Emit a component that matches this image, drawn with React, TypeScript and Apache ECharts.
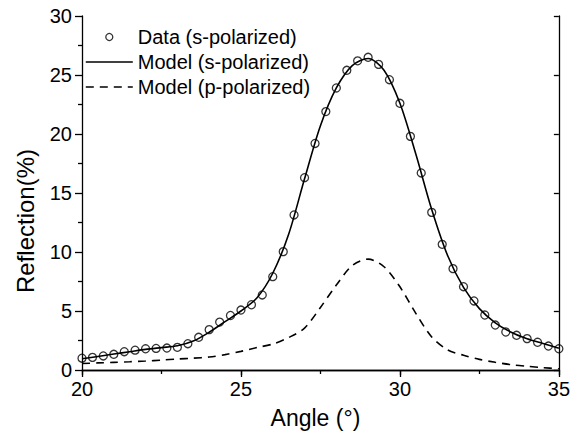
import React, { useEffect, useRef } from "react";
import * as echarts from "echarts";

const dataAngles = [
  20, 20.33, 20.67, 21, 21.33, 21.67, 22, 22.33, 22.67, 23, 23.33, 23.67, 24, 24.33, 24.67, 25,
  25.33, 25.67, 26, 26.33, 26.67, 27, 27.33, 27.67, 28, 28.33, 28.67, 29, 29.33, 29.67, 30,
  30.33, 30.67, 31, 31.33, 31.67, 32, 32.33, 32.67, 33, 33.33, 33.67, 34, 34.33, 34.67, 35,
];
const dataS = [
  1.0, 1.07, 1.19, 1.33, 1.55, 1.68, 1.8, 1.83, 1.86, 1.92, 2.23, 2.77, 3.42, 4.06, 4.62, 5.08,
  5.53, 6.36, 7.91, 10.03, 13.14, 16.3, 19.2, 21.9, 23.9, 25.4, 26.2, 26.5, 25.9, 24.6, 22.6,
  19.8, 16.7, 13.36, 10.65, 8.59, 7.06, 5.85, 4.66, 3.81, 3.22, 2.94, 2.66, 2.35, 2.03, 1.8,
];
const modelAngles = [
  20, 20.5, 21, 21.5, 22, 22.5, 23, 23.5, 24, 24.5, 25, 25.5, 26, 26.5, 27, 27.5, 28, 28.5, 29,
  29.5, 30, 30.5, 31, 31.5, 32, 32.5, 33, 33.5, 34, 34.5, 35,
];
const modelS = [
  0.95, 1.15, 1.35, 1.55, 1.75, 1.9, 2.05, 2.45, 3.2, 4.1, 5.0, 6.1, 8.2, 11.5, 16.2, 20.7, 23.9,
  25.8, 26.4, 25.4, 22.6, 18.3, 13.6, 9.7, 7.0, 5.2, 4.0, 3.2, 2.65, 2.25, 1.85,
];
const modelP = [
  0.55, 0.6, 0.65, 0.7, 0.76, 0.84, 0.93, 1.0, 1.1, 1.3, 1.58, 1.9, 2.2, 2.75, 3.55, 5.3, 7.2,
  8.85, 9.4, 8.75, 7.05, 4.8, 2.8, 1.7, 1.25, 0.9, 0.65, 0.45, 0.32, 0.2, 0.1,
];
const seriesNames = ["Data (s-polarized)", "Model (s-polarized)", "Model (p-polarized)"];
const xName = "Angle (°)";
const yName = "Reflection(%)";

const FONT = "'Liberation Sans', Arial, Helvetica, sans-serif";

export default function App() {
  const ref = useRef<HTMLDivElement>(null);
  useEffect(() => {
    if (!ref.current) return;
    const chart = echarts.init(ref.current, null, { renderer: "svg" });
    const axisLine = { show: true, lineStyle: { color: "#000", width: 1.3 } };
    const hiddenSymbol = { color: "rgba(0,0,0,0)", borderColor: "rgba(0,0,0,0)", borderWidth: 0, opacity: 0 };
    chart.setOption({
      animation: false,
      backgroundColor: "#fff",
      textStyle: { fontFamily: FONT, color: "#000" },
      grid: { left: 82, right: 8, top: 16, bottom: 69, containLabel: false },
      legend: {
        orient: "vertical",
        left: 85,
        top: 27,
        padding: 0,
        itemGap: 5,
        itemWidth: 47,
        itemHeight: 7,
        textStyle: { fontSize: 20, color: "#000", fontFamily: FONT },
        data: [
          {
            name: seriesNames[0],
            icon: "circle",
            itemStyle: { color: "rgba(0,0,0,0)", borderColor: "#000", borderWidth: 1.3 },
          },
          {
            name: seriesNames[1],
            itemStyle: hiddenSymbol,
            lineStyle: { color: "#000", width: 1.6, type: "solid", opacity: 1 },
          },
          {
            name: seriesNames[2],
            itemStyle: hiddenSymbol,
            lineStyle: { color: "#000", width: 1.6, type: [8, 6], opacity: 1 },
          },
        ],
      },
      xAxis: [
        {
          type: "value",
          position: "bottom",
          min: 20,
          max: 35,
          interval: 5,
          axisLine,
          axisTick: { show: true, inside: false, length: 7, lineStyle: { color: "#000", width: 1.3 } },
          minorTick: { show: true, splitNumber: 2, length: 4, lineStyle: { color: "#000", width: 1.3 } },
          splitLine: { show: false },
          axisLabel: { fontSize: 20, color: "#000", margin: 9, fontFamily: FONT },
          name: xName,
          nameLocation: "middle",
          nameGap: 36,
          nameTextStyle: { fontSize: 23, color: "#000", fontFamily: FONT, padding: [0, 10, 0, 0] },
        },
        {
          type: "value",
          position: "top",
          min: 20,
          max: 35,
          interval: 5,
          axisLine,
          axisTick: { show: true, inside: true, length: 5, lineStyle: { color: "#000", width: 1.3 } },
          axisLabel: { show: false },
          splitLine: { show: false },
        },
      ],
      yAxis: [
        {
          type: "value",
          position: "left",
          min: 0,
          max: 30,
          interval: 5,
          axisLine,
          axisTick: { show: true, inside: false, length: 7, lineStyle: { color: "#000", width: 1.3 } },
          minorTick: { show: true, splitNumber: 2, length: 4, lineStyle: { color: "#000", width: 1.3 } },
          splitLine: { show: false },
          axisLabel: { fontSize: 20, color: "#000", margin: 10, fontFamily: FONT },
        },
        {
          type: "value",
          position: "right",
          min: 0,
          max: 30,
          interval: 5,
          axisLine,
          axisTick: { show: true, inside: true, length: 5, lineStyle: { color: "#000", width: 1.3 } },
          axisLabel: { show: false },
          splitLine: { show: false },
        },
      ],
      graphic: [
        {
          type: "text",
          x: 25,
          y: 221,
          rotation: Math.PI / 2,
          style: {
            text: yName,
            fill: "#000",
            fontSize: 24,
            fontFamily: FONT,
            align: "center",
            verticalAlign: "middle",
            textAlign: "center",
            textVerticalAlign: "middle",
          },
        },
      ],
      series: [
        {
          name: seriesNames[1],
          type: "line",
          xAxisIndex: 0,
          yAxisIndex: 0,
          data: modelAngles.map((a, i) => [a, modelS[i]]),
          smooth: 0.3,
          symbol: "none",
          showSymbol: false,
          lineStyle: { color: "#000", width: 1.6 },
          itemStyle: { color: "#000" },
          z: 2,
        },
        {
          name: seriesNames[2],
          type: "line",
          xAxisIndex: 0,
          yAxisIndex: 0,
          data: modelAngles.map((a, i) => [a, modelP[i]]),
          smooth: 0.3,
          symbol: "none",
          showSymbol: false,
          lineStyle: { color: "#000", width: 1.6, type: [8, 6] },
          itemStyle: { color: "#000" },
          z: 2,
        },
        {
          name: seriesNames[0],
          type: "scatter",
          xAxisIndex: 0,
          yAxisIndex: 0,
          data: dataAngles.map((a, i) => [a, dataS[i]]),
          symbol: "circle",
          symbolSize: 8,
          clip: false,
          itemStyle: { color: "rgba(0,0,0,0)", borderColor: "#000", borderWidth: 1.3 },
          z: 3,
        },
      ],
    });
    return () => chart.dispose();
  }, []);
  return (
    <div
      ref={ref}
      style={{ position: "fixed", left: 0, top: 0, width: 573, height: 439, background: "#fff" }}
    />
  );
}
